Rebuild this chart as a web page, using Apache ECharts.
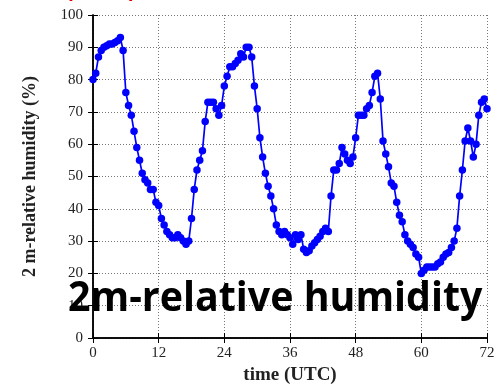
<!DOCTYPE html>
<html>
<head>
<meta charset="utf-8">
<script src="https://cdn.jsdelivr.net/npm/echarts@6/dist/echarts.min.js"></script>
<style>
  html, body { margin: 0; padding: 0; background: #fff; }
  #chart { width: 498px; height: 385px; }
</style>
</head>
<body>
<div id="chart"></div>
<script>
// Time of each observation (hours, UTC), half-hourly over three days
const timeHours = [
  0, 0.5, 1, 1.5, 2, 2.5, 3, 3.5, 4, 4.5, 5, 5.5,
  6, 6.5, 7, 7.5, 8, 8.5, 9, 9.5, 10, 10.5, 11, 11.5,
  12, 12.5, 13, 13.5, 14, 14.5, 15, 15.5, 16, 16.5, 17, 17.5,
  18, 18.5, 19, 19.5, 20, 20.5, 21, 21.5, 22, 22.5, 23, 23.5,
  24, 24.5, 25, 25.5, 26, 26.5, 27, 27.5, 28, 28.5, 29, 29.5,
  30, 30.5, 31, 31.5, 32, 32.5, 33, 33.5, 34, 34.5, 35, 35.5,
  36, 36.5, 37, 37.5, 38, 38.5, 39, 39.5, 40, 40.5, 41, 41.5,
  42, 42.5, 43, 43.5, 44, 44.5, 45, 45.5, 46, 46.5, 47, 47.5,
  48, 48.5, 49, 49.5, 50, 50.5, 51, 51.5, 52, 52.5, 53, 53.5,
  54, 54.5, 55, 55.5, 56, 56.5, 57, 57.5, 58, 58.5, 59, 59.5,
  60, 60.5, 61, 61.5, 62, 62.5, 63, 63.5, 64, 64.5, 65, 65.5,
  66, 66.5, 67, 67.5, 68, 68.5, 69, 69.5, 70, 70.5, 71, 71.5,
  72
];

// 2 m relative humidity (%) at each time
const relHumidity = [
  80, 82, 87, 89, 90, 90.5, 91, 91, 91.5, 92, 93, 89,
  76, 72, 69, 64, 59, 55, 51, 49, 48, 46, 46, 42,
  41, 37, 35, 33, 32, 31, 31, 32, 31, 30, 29, 30,
  37, 46, 52, 55, 58, 67, 73, 73, 73, 71, 69, 72,
  78, 81, 84, 84, 85, 86, 88, 87, 90, 90, 87, 78,
  71, 62, 56, 51, 47, 44, 40, 35, 33, 32, 33, 32,
  31, 29, 32, 30.5, 32, 27.5, 26.5, 27, 28.5, 29.5, 30.5, 31.5,
  33, 34, 33, 44, 52, 52, 54, 59, 57, 55, 54, 56,
  62, 69, 69, 69, 71, 72, 76, 81, 82, 74, 61, 57,
  53, 48, 47, 42, 38, 36, 32, 30, 29, 28, 26, 25,
  20, 21, 22, 22, 22, 22, 23, 23.5, 25, 26, 26.5, 28,
  30, 34, 44, 52, 61, 65, 61, 56, 60, 69, 73, 74,
  71
];

const xTicks = [0, 12, 24, 36, 48, 60, 72];
const yTicks = [0, 10, 20, 30, 40, 50, 60, 70, 80, 90, 100];

const xLabel = 'time (UTC)';
const yLabel = '2 m-relative humidity (%)';
const overlayLabel = '2m-relative humidity';

const serif = '"Liberation Serif", "Times New Roman", serif';
const gridDots = { color: '#777', type: [1, 2], width: 1 };
const frame = { show: true, lineStyle: { color: '#000', width: 1.5 } };

const chart = echarts.init(document.getElementById('chart'), null, { renderer: 'canvas' });

chart.setOption({
  animation: false,
  backgroundColor: '#fff',
  grid: { left: 93, right: 11, top: 15, bottom: 47, containLabel: false, outerBoundsMode: 'none' },
  xAxis: [
    {
      type: 'value', min: xTicks[0], max: xTicks[xTicks.length - 1], interval: 12,
      position: 'bottom',
      axisLine: frame,
      axisTick: { show: true, inside: true, length: 5, lineStyle: { color: '#000' } },
      axisLabel: { color: '#222', fontFamily: serif, fontSize: 15, margin: 8 },
      splitLine: { show: true, lineStyle: gridDots },
      name: xLabel, nameLocation: 'middle', nameGap: 27,
      nameTextStyle: { color: '#222', fontFamily: serif, fontSize: 19, fontWeight: 'bold' }
    },
    {
      type: 'value', min: xTicks[0], max: xTicks[xTicks.length - 1], interval: 12,
      position: 'top',
      axisLine: frame,
      axisTick: { show: true, inside: true, length: 5, lineStyle: { color: '#000' } },
      axisLabel: { show: false },
      splitLine: { show: false }
    }
  ],
  yAxis: [
    {
      type: 'value', min: yTicks[0], max: yTicks[yTicks.length - 1], interval: 10,
      position: 'left',
      axisLine: frame,
      axisTick: { show: true, inside: true, length: 5, lineStyle: { color: '#000' } },
      axisLabel: { color: '#222', fontFamily: serif, fontSize: 15, margin: 10 },
      splitLine: { show: true, lineStyle: gridDots },
      name: yLabel, nameLocation: 'middle', nameGap: 54,
      nameTextStyle: { color: '#222', fontFamily: serif, fontSize: 18, fontWeight: 'bold' }
    },
    {
      type: 'value', min: yTicks[0], max: yTicks[yTicks.length - 1], interval: 10,
      position: 'right',
      axisLine: frame,
      axisTick: { show: true, inside: true, length: 5, lineStyle: { color: '#000' } },
      axisLabel: { show: false },
      splitLine: { show: false }
    }
  ],
  series: [
    {
      type: 'line',
      xAxisIndex: 0, yAxisIndex: 0,
      data: timeHours.map((t, i) => [t, relHumidity[i]]),
      symbol: 'circle',
      symbolSize: 7.5,
      showAllSymbol: true,
      lineStyle: { color: '#0000ff', width: 1.7 },
      itemStyle: { color: '#0000ff' },
      z: 3
    }
  ],
  graphic: [
    {
      type: 'text', left: 68, top: 279, z: 10,
      scaleX: 0.96,
      style: {
        text: overlayLabel,
        fill: '#000',
        font: 'bold 41px "Open Sans", "Noto Sans", sans-serif'
      }
    },
    {
      type: 'text', left: 66, top: -19, z: 10,
      style: { text: '(', fill: '#e00000', font: 'bold 20px "Liberation Sans", sans-serif' }
    },
    {
      type: 'text', left: 129, top: -19, z: 10,
      style: { text: ')', fill: '#e00000', font: 'bold 20px "Liberation Sans", sans-serif' }
    }
  ]
});
</script>
</body>
</html>
